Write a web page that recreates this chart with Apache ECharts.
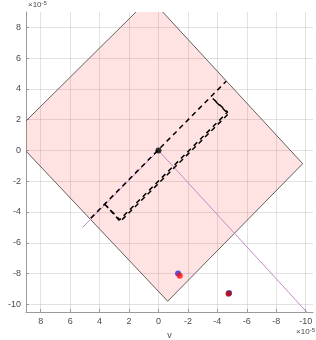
<!DOCTYPE html>
<html><head><meta charset="utf-8">
<script src="https://cdn.jsdelivr.net/npm/echarts@6/dist/echarts.min.js"></script>
<style>html,body{margin:0;padding:0;background:#fff}#c{width:316px;height:340px}</style>
</head><body><div id="c"></div>
<script>
const xTicks = [8, 6, 4, 2, 0, -2, -4, -6, -8, -10];
const yTicks = [8, 6, 4, 2, 0, -2, -4, -6, -8, -10];
// feasible region (v, x) vertices, units of 1e-5
const regionV = [10.0, 0.58, -9.8, -0.63];
const regionX = [0.97, 9.9, -0.86, -9.8];
// dashed center line
const lineV = [4.6, -4.6];
const lineX = [-4.4, 4.5];
// dashed rectangle sides (open, upper side is the center line)
const rectAV = [3.65, 2.63, -4.7, -3.6];
const rectAX = [-3.5, -4.5, 2.5, 3.45];
const rectBV = [3.5, 2.6, -4.75, -3.75];
const rectBX = [-3.62, -4.62, 2.38, 3.3];
// thin purple rays
const rayAV = [5.15, 0];
const rayAX = [-5.0, 0];
const rayBV = [0, -10.6];
const rayBX = [0, -11.05];
// points
const originPt = [[0, 0]];
const bluePts = [[-1.33, -8.0], [-4.8, -9.26]];
const redPts = [[-1.45, -8.14]];
const darkRedPts = [[-4.76, -9.32]];

const pairs = (a, b) => a.map((v, i) => [v, b[i]]);
const fontFam = '"Liberation Sans", Arial, sans-serif';
const gridColor = 'rgba(38,38,38,0.13)';
const axisColor = '#9a9a9a';
const labelColor = '#4a4a4a';

const chart = echarts.init(document.getElementById('c'));
chart.setOption({
  animation: false,
  grid: { left: 26, right: 3, top: 12, bottom: 28, containLabel: false, outerBoundsMode: 'none' },
  xAxis: {
    type: 'value', min: -10.5, max: 9, inverse: true,
    name: 'v', nameLocation: 'middle', nameGap: 18,
    nameTextStyle: { color: labelColor, fontSize: 9, fontFamily: fontFam },
    axisLine: { show: true, onZero: false, lineStyle: { color: axisColor, width: 1 } },
    axisTick: { show: true, inside: true, length: 3, customValues: xTicks, lineStyle: { color: axisColor } },
    axisLabel: { customValues: xTicks, color: labelColor, fontSize: 9, fontFamily: fontFam, margin: 5 },
    splitLine: { show: true, lineStyle: { color: gridColor, width: 1 } }
  },
  yAxis: {
    type: 'value', min: -10.5, max: 9,
    name: 'x', nameLocation: 'middle', nameGap: 21, nameRotate: 90,
    nameTextStyle: { color: labelColor, fontSize: 9, fontFamily: fontFam },
    axisLine: { show: true, onZero: false, lineStyle: { color: axisColor, width: 1 } },
    axisTick: { show: true, inside: true, length: 3, customValues: yTicks, lineStyle: { color: axisColor } },
    axisLabel: { customValues: yTicks, color: labelColor, fontSize: 9, fontFamily: fontFam, margin: 5 },
    splitLine: { show: true, lineStyle: { color: gridColor, width: 1 } }
  },
  graphic: [
    { type: 'text', left: 28, top: 0, style: { rich: { a: { fontSize: 8, fill: labelColor, fontFamily: fontFam }, s: { fontSize: 6, fill: labelColor, fontFamily: fontFam, verticalAlign: 'top', padding: [0,0,4,0] } }, text: '{a|×10}{s|-5}' } },
    { type: 'text', right: 1, top: 327, style: { rich: { a: { fontSize: 8, fill: labelColor, fontFamily: fontFam }, s: { fontSize: 6, fill: labelColor, fontFamily: fontFam, verticalAlign: 'top', padding: [0,0,4,0] } }, text: '{a|×10}{s|-5}' } }
  ],
  series: [
    {
      type: 'custom', clip: true, data: [[0, 0]], encode: { x: 0, y: 1 }, z: 1,
      renderItem: (params, api) => {
        const pts = regionV.map((v, i) => api.coord([v, regionX[i]]));
        return { type: 'polygon', shape: { points: pts }, style: { fill: 'rgba(255,0,0,0.115)', stroke: '#606060', lineWidth: 1 } };
      }
    },
    { type: 'line', data: pairs(rayAV, rayAX), showSymbol: false, clip: true, z: 2, lineStyle: { color: '#c48ac8', width: 1 } },
    { type: 'line', data: pairs(rayBV, rayBX), showSymbol: false, clip: true, z: 2, lineStyle: { color: '#c48ac8', width: 1 } },
    { type: 'line', data: pairs(lineV, lineX), showSymbol: false, z: 3, lineStyle: { color: '#000', width: 1.5, type: [5, 4] } },
    { type: 'line', data: pairs(rectAV, rectAX), showSymbol: false, z: 3, lineStyle: { color: '#000', width: 1.5, type: [5, 4] } },
    { type: 'line', data: pairs(rectBV, rectBX), showSymbol: false, z: 3, lineStyle: { color: '#000', width: 1.5, type: [5, 4], dashOffset: 4 } },
    { type: 'scatter', data: originPt, symbolSize: 6, z: 4, itemStyle: { color: '#000' } },
    { type: 'scatter', data: bluePts, symbolSize: 6, z: 4, itemStyle: { color: '#2a2ad0' } },
    { type: 'scatter', data: redPts, symbolSize: 6, z: 5, itemStyle: { color: '#ff1010' } },
    { type: 'scatter', data: darkRedPts, symbolSize: 6, z: 5, itemStyle: { color: '#c00000' } }
  ]
});
</script></body></html>
